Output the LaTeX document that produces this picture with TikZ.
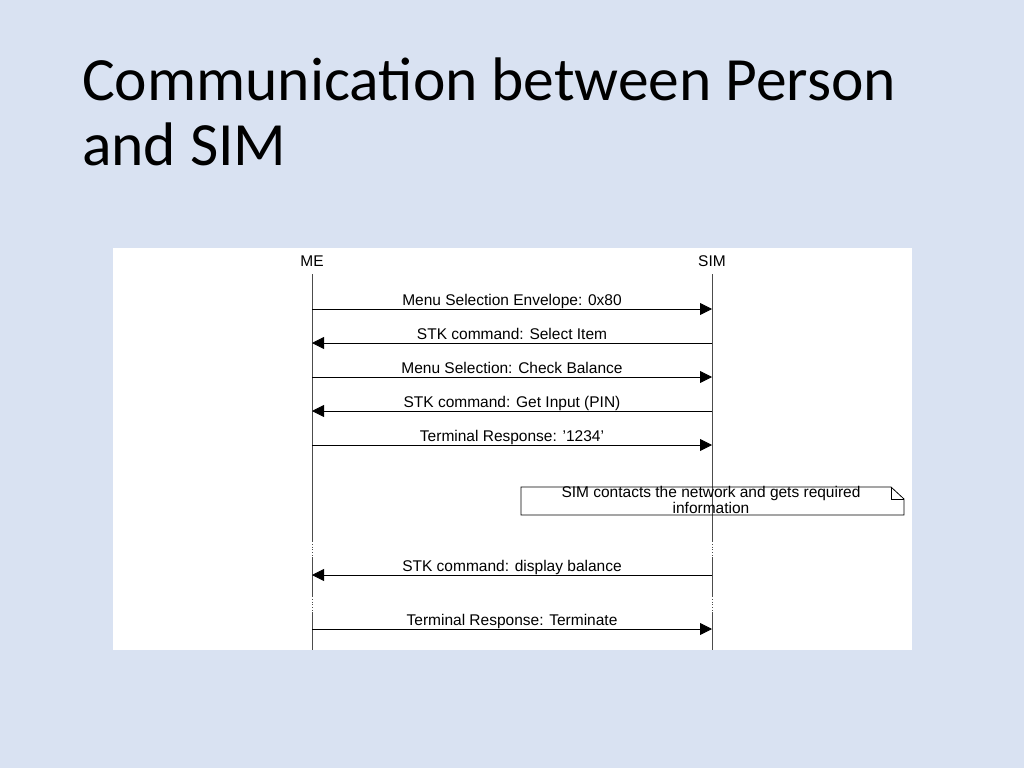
\documentclass[tikz,border=0pt]{standalone}
\usepackage{fontspec}
\setmainfont{Liberation Sans}
\newfontfamily\titlefont{Carlito}
\usetikzlibrary{arrows.meta}
\definecolor{bg}{HTML}{D9E2F2}
\begin{document}
\begin{tikzpicture}[x=1pt,y=-1pt,
  msg/.style={draw=black,line width=0.8pt,-{Triangle[length=12pt,width=12pt]}},
  lbl/.style={font=\fontsize{15.5}{17}\selectfont,anchor=base,inner sep=0pt},
  life/.style={draw=black!70,line width=0.8pt}]
\fill[bg] (0,0) rectangle (1024,768);
\useasboundingbox (0,0) rectangle (1024,768);
\node[anchor=base west,inner sep=0pt,font=\titlefont\fontsize{61.5}{70}\selectfont] (t1) at (82,100) {Communication between Person};
\node[anchor=base west,inner sep=0pt,font=\titlefont\fontsize{61.5}{70}\selectfont] (t2) at (82,165) {and SIM};
\fill[white] (113,248) rectangle (912,650);
\node[lbl] (me) at (312,266) {ME};
\node[lbl] (sim) at (712,266) {SIM};
\foreach \x/\n in {312/a,712/b}{
  \coordinate (\n0) at (\x,274);
  \coordinate (\n1) at (\x,541);
  \coordinate (\n2) at (\x,557);
  \coordinate (\n3) at (\x,596);
  \coordinate (\n4) at (\x,612);
  \coordinate (\n5) at (\x,650);
  \draw[life] (\n0)--(\n1) (\n2)--(\n3) (\n4)--(\n5);
  \draw[life,dotted,line width=0.5pt] (\n1)--(\n2) (\n3)--(\n4);
}
\foreach \y/\d/\t in {309/r/{Menu Selection Envelope: 0x80},343/l/{STK command: Select Item},377/r/{Menu Selection: Check Balance},411/l/{STK command: Get Input (PIN)},445/r/{Terminal Response: '1234'},575/l/{STK command: display balance},629/r/{Terminal Response: Terminate}}{
  \coordinate (L\y) at (312,\y);
  \coordinate (R\y) at (712,\y);
  \if r\d \draw[msg] (L\y)--(R\y); \else \draw[msg] (R\y)--(L\y); \fi
  \node[lbl] at (512,\y-4) {\t};
}
\draw[line width=0.8pt] (521,487) -- (891,487) -- (904,499) -- (904,515) -- (521,515) -- cycle;
\draw[line width=0.6pt] (891,487) -- (891,499) -- (904,499);
\node[align=center,font=\fontsize{15.5}{14}\selectfont,inner sep=0pt] (note) at (711,500) {SIM contacts the network and gets required\\information};
\end{tikzpicture}
\end{document}
